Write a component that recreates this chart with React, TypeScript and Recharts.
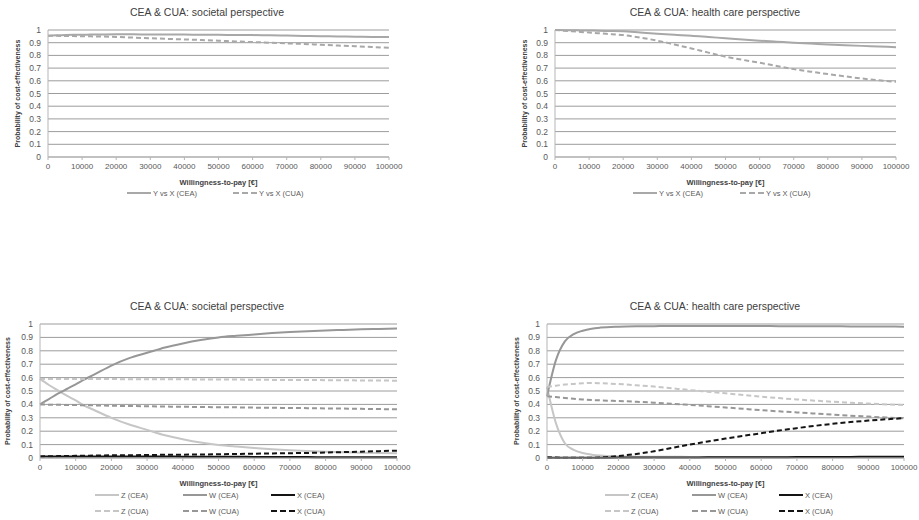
import React from 'react'
import { LineChart, Line, XAxis, YAxis, CartesianGrid } from 'recharts'

// willingness-to-pay grid (€)
const WTP = [
  0, 2500, 5000, 7500, 10000, 12500, 15000, 20000, 25000, 30000, 35000, 40000,
  45000, 50000, 55000, 60000, 65000, 70000, 75000, 80000, 85000, 90000, 95000,
  100000,
]
const X_TICKS = [0, 10000, 20000, 30000, 40000, 50000, 60000, 70000, 80000, 90000, 100000]
const Y_TICKS = [0, 0.1, 0.2, 0.3, 0.4, 0.5, 0.6, 0.7, 0.8, 0.9, 1]

// top left: societal, Y vs X
const SOC_YX_CEA = [
  0.955, 0.958, 0.96, 0.962, 0.963, 0.964, 0.965, 0.966, 0.966, 0.965, 0.965, 0.964,
  0.963, 0.962, 0.961, 0.96, 0.958, 0.956, 0.953, 0.951, 0.949, 0.947, 0.945, 0.944,
]
const SOC_YX_CUA = [
  0.955, 0.954, 0.953, 0.952, 0.951, 0.95, 0.949, 0.945, 0.94, 0.935, 0.93, 0.926,
  0.921, 0.916, 0.91, 0.905, 0.9, 0.895, 0.89, 0.884, 0.878, 0.872, 0.866, 0.86,
]

// top right: health care, Y vs X
const HC_YX_CEA = [
  1, 0.999, 0.998, 0.997, 0.996, 0.995, 0.993, 0.99, 0.98, 0.97, 0.962, 0.955,
  0.945, 0.935, 0.925, 0.916, 0.908, 0.9, 0.893, 0.886, 0.88, 0.875, 0.87, 0.865,
]
const HC_YX_CUA = [
  1, 0.995, 0.99, 0.985, 0.98, 0.975, 0.97, 0.96, 0.94, 0.916, 0.886, 0.855,
  0.822, 0.79, 0.765, 0.742, 0.717, 0.692, 0.672, 0.653, 0.635, 0.618, 0.604, 0.592,
]

// bottom left: societal, Z / W / X
const SOC_Z_CEA = [
  0.59, 0.545, 0.505, 0.465, 0.43, 0.39, 0.36, 0.3, 0.25, 0.21, 0.17, 0.14,
  0.115, 0.097, 0.085, 0.075, 0.066, 0.058, 0.052, 0.047, 0.043, 0.04, 0.037, 0.035,
]
const SOC_W_CEA = [
  0.4, 0.44, 0.48, 0.515, 0.55, 0.587, 0.62, 0.69, 0.745, 0.785, 0.825, 0.855,
  0.88, 0.9, 0.912, 0.922, 0.932, 0.94, 0.946, 0.952, 0.956, 0.96, 0.963, 0.966,
]
const SOC_X_CEA = [
  0.012, 0.012, 0.012, 0.012, 0.012, 0.012, 0.012, 0.012, 0.011, 0.011, 0.011, 0.01,
  0.01, 0.009, 0.009, 0.008, 0.008, 0.007, 0.007, 0.006, 0.006, 0.005, 0.005, 0.005,
]
const SOC_Z_CUA = [
  0.59, 0.59, 0.59, 0.59, 0.59, 0.589, 0.589, 0.589, 0.588, 0.588, 0.587, 0.587,
  0.586, 0.585, 0.585, 0.584, 0.583, 0.582, 0.582, 0.581, 0.58, 0.579, 0.578, 0.577,
]
const SOC_W_CUA = [
  0.4, 0.398, 0.397, 0.396, 0.395, 0.394, 0.393, 0.39, 0.388, 0.386, 0.384, 0.382,
  0.381, 0.379, 0.378, 0.376, 0.375, 0.373, 0.372, 0.37, 0.369, 0.367, 0.365, 0.363,
]
const SOC_X_CUA = [
  0.012, 0.013, 0.014, 0.015, 0.016, 0.017, 0.018, 0.02, 0.021, 0.022, 0.024, 0.025,
  0.026, 0.028, 0.03, 0.032, 0.034, 0.036, 0.038, 0.041, 0.044, 0.047, 0.051, 0.055,
]

// bottom right: health care, Z / W / X
const HC_Z_CEA = [
  0.53, 0.26, 0.11, 0.06, 0.037, 0.025, 0.018, 0.012, 0.01, 0.009, 0.009, 0.008,
  0.008, 0.008, 0.007, 0.007, 0.007, 0.007, 0.006, 0.006, 0.006, 0.006, 0.006, 0.006,
]
const HC_W_CEA = [
  0.46, 0.73, 0.87, 0.925, 0.95, 0.965, 0.973, 0.98, 0.983, 0.984, 0.985, 0.985,
  0.985, 0.985, 0.985, 0.985, 0.984, 0.984, 0.983, 0.983, 0.982, 0.982, 0.981, 0.98,
]
const HC_X_CEA = [
  0.002, 0.002, 0.002, 0.002, 0.002, 0.002, 0.002, 0.003, 0.003, 0.003, 0.004, 0.004,
  0.005, 0.005, 0.005, 0.006, 0.006, 0.007, 0.007, 0.008, 0.008, 0.009, 0.009, 0.01,
]
const HC_Z_CUA = [
  0.53, 0.54, 0.548, 0.553, 0.557, 0.56, 0.558, 0.552, 0.543, 0.533, 0.52, 0.507,
  0.495, 0.483, 0.47, 0.458, 0.447, 0.437, 0.428, 0.42, 0.413, 0.406, 0.4, 0.395,
]
const HC_W_CUA = [
  0.46, 0.455, 0.448, 0.442, 0.437, 0.433, 0.43, 0.425, 0.42, 0.413, 0.405, 0.396,
  0.387, 0.377, 0.367, 0.357, 0.348, 0.34, 0.332, 0.324, 0.316, 0.309, 0.302, 0.296,
]
const HC_X_CUA = [
  0.005, 0.003, 0.002, 0.001, 0.001, 0.002, 0.004, 0.015, 0.03, 0.05, 0.075, 0.1,
  0.123, 0.145, 0.165, 0.185, 0.205, 0.223, 0.24, 0.255, 0.268, 0.279, 0.289, 0.297,
]

const LIGHT = '#c6c6c6'
const MID = '#979797'
const YX = '#a8a8a8'
const DARK = '#141414'

const FONT = '"Liberation Sans", Arial, sans-serif'
const TEXT = '#595959'

interface Series {
  key: string
  name: string
  values: number[]
  color: string
  dashed?: boolean
}

interface PanelProps {
  left: number
  top: number
  width: number
  height: number
  title: string
  titleX: number
  titleY: number
  margin: { top: number; right: number; bottom: number; left: number }
  yAxisWidth: number
  xAxisHeight: number
  xLabelOffset: number
  series: Series[]
  legendX: number
  legendY: number
  legendCols: number
  legendColWidth: number
}

function buildRows(series: Series[]) {
  return WTP.map((x, i) => {
    const row: Record<string, number> = { wtp: x }
    series.forEach(s => {
      row[s.key] = s.values[i]
    })
    return row
  })
}

function ChartLegend({ series, cols, colWidth }: { series: Series[]; cols: number; colWidth: number }) {
  return (
    <div style={{ display: 'grid', gridTemplateColumns: `repeat(${cols}, ${colWidth}px)`, rowGap: 6 }}>
      {series.map(s => (
        <div key={s.key} style={{ display: 'flex', alignItems: 'center', height: 10 }}>
          <svg width={25} height={6}>
            <line
              x1={0}
              y1={3}
              x2={24}
              y2={3}
              stroke={s.color}
              strokeWidth={2}
              strokeDasharray={s.dashed ? '6 3' : undefined}
            />
          </svg>
          <span style={{ fontSize: 7.5, color: TEXT, fontFamily: FONT, marginLeft: 1 }}>{s.name}</span>
        </div>
      ))}
    </div>
  )
}

function Panel(p: PanelProps) {
  const data = buildRows(p.series)
  return (
    <div style={{ position: 'absolute', left: p.left, top: p.top, width: p.width, height: p.height + 40 }}>
      <div
        style={{
          position: 'absolute',
          left: p.titleX - 150,
          top: p.titleY - 7,
          width: 300,
          height: 14,
          lineHeight: '14px',
          textAlign: 'center',
          fontFamily: FONT,
          fontSize: 10.5,
          color: '#404040',
        }}
      >
        {p.title}
      </div>
      <LineChart width={p.width} height={p.height} data={data} margin={p.margin}>
        <CartesianGrid vertical={false} stroke="#9c9c9c" />
        <XAxis
          dataKey="wtp"
          type="number"
          domain={[0, 100000]}
          ticks={X_TICKS}
          interval={0}
          height={p.xAxisHeight}
          stroke="#b5b5b5"
          tickSize={3}
          tickMargin={3}
          tick={{ fontSize: 8, fill: TEXT, fontFamily: FONT }}
          label={{
            value: 'Willingness-to-pay [€]',
            position: 'insideBottom',
            offset: p.xLabelOffset,
            style: { fontSize: 7.5, fontWeight: 'bold', fill: '#404040', fontFamily: FONT },
          }}
        />
        <YAxis
          type="number"
          domain={[0, 1]}
          ticks={Y_TICKS}
          interval={0}
          width={p.yAxisWidth}
          stroke="#b5b5b5"
          tickSize={0}
          tickMargin={7}
          tick={{ fontSize: 8.5, fill: TEXT, fontFamily: FONT }}
          label={{
            value: 'Probability of cost-effectiveness',
            angle: -90,
            position: 'insideLeft',
            offset: 8,
            style: { textAnchor: 'middle', fontSize: 7, fontWeight: 'bold', fill: '#404040', fontFamily: FONT },
          }}
        />
        {p.series.map(s => (
          <Line
            key={s.key}
            dataKey={s.key}
            name={s.name}
            type="monotone"
            stroke={s.color}
            strokeWidth={2}
            strokeDasharray={s.dashed ? '5 3' : undefined}
            dot={false}
            isAnimationActive={false}
          />
        ))}
      </LineChart>
      <div style={{ position: 'absolute', left: p.legendX, top: p.legendY - 5 }}>
        <ChartLegend series={p.series} cols={p.legendCols} colWidth={p.legendColWidth} />
      </div>
    </div>
  )
}

const TOP_SOC: Series[] = [
  { key: 'cea', name: 'Y vs X (CEA)', values: SOC_YX_CEA, color: YX },
  { key: 'cua', name: 'Y vs X (CUA)', values: SOC_YX_CUA, color: YX, dashed: true },
]
const TOP_HC: Series[] = [
  { key: 'cea', name: 'Y vs X (CEA)', values: HC_YX_CEA, color: YX },
  { key: 'cua', name: 'Y vs X (CUA)', values: HC_YX_CUA, color: YX, dashed: true },
]
const BOT_SOC: Series[] = [
  { key: 'zcea', name: 'Z (CEA)', values: SOC_Z_CEA, color: LIGHT },
  { key: 'wcea', name: 'W (CEA)', values: SOC_W_CEA, color: MID },
  { key: 'xcea', name: 'X (CEA)', values: SOC_X_CEA, color: DARK },
  { key: 'zcua', name: 'Z (CUA)', values: SOC_Z_CUA, color: LIGHT, dashed: true },
  { key: 'wcua', name: 'W (CUA)', values: SOC_W_CUA, color: MID, dashed: true },
  { key: 'xcua', name: 'X (CUA)', values: SOC_X_CUA, color: DARK, dashed: true },
]
const BOT_HC: Series[] = [
  { key: 'zcea', name: 'Z (CEA)', values: HC_Z_CEA, color: LIGHT },
  { key: 'wcea', name: 'W (CEA)', values: HC_W_CEA, color: MID },
  { key: 'xcea', name: 'X (CEA)', values: HC_X_CEA, color: DARK },
  { key: 'zcua', name: 'Z (CUA)', values: HC_Z_CUA, color: LIGHT, dashed: true },
  { key: 'wcua', name: 'W (CUA)', values: HC_W_CUA, color: MID, dashed: true },
  { key: 'xcua', name: 'X (CUA)', values: HC_X_CUA, color: DARK, dashed: true },
]

export default function App() {
  return (
    <div style={{ position: 'absolute', left: 0, top: 0, width: 919, height: 520, background: '#fff', overflow: 'hidden' }}>
      <Panel
        left={0}
        top={0}
        width={460}
        height={190}
        title="CEA & CUA: societal perspective"
        titleX={207}
        titleY={12}
        margin={{ top: 30, right: 71, bottom: 0, left: 10 }}
        yAxisWidth={38}
        xAxisHeight={33}
        xLabelOffset={5}
        series={TOP_SOC}
        legendX={127}
        legendY={193}
        legendCols={2}
        legendColWidth={106}
      />
      <Panel
        left={460}
        top={0}
        width={459}
        height={190}
        title="CEA & CUA: health care perspective"
        titleX={255}
        titleY={12}
        margin={{ top: 30, right: 23, bottom: 0, left: 57 }}
        yAxisWidth={38}
        xAxisHeight={33}
        xLabelOffset={5}
        series={TOP_HC}
        legendX={173}
        legendY={193}
        legendCols={2}
        legendColWidth={107}
      />
      <Panel
        left={0}
        top={290}
        width={460}
        height={199}
        title="CEA & CUA: societal perspective"
        titleX={207}
        titleY={16}
        margin={{ top: 34, right: 63, bottom: 0, left: 0 }}
        yAxisWidth={40}
        xAxisHeight={31}
        xLabelOffset={3}
        series={BOT_SOC}
        legendX={95}
        legendY={205}
        legendCols={3}
        legendColWidth={88}
      />
      <Panel
        left={460}
        top={290}
        width={459}
        height={199}
        title="CEA & CUA: health care perspective"
        titleX={255}
        titleY={16}
        margin={{ top: 34, right: 15, bottom: 0, left: 49 }}
        yAxisWidth={38}
        xAxisHeight={31}
        xLabelOffset={3}
        series={BOT_HC}
        legendX={145}
        legendY={205}
        legendCols={3}
        legendColWidth={87}
      />
    </div>
  )
}
